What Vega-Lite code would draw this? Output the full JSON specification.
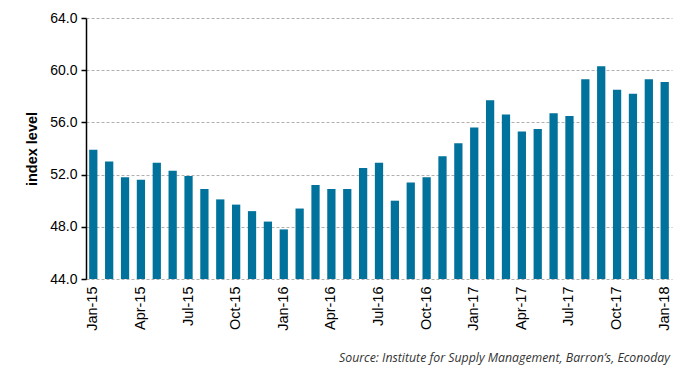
{
  "$schema": "https://vega.github.io/schema/vega-lite/v6.json",
  "width": 586,
  "height": 261,
  "autosize": "none",
  "padding": {"left": 86, "top": 18, "right": 28, "bottom": 101},
  "background": "white",
  "title": {
    "text": "Source: Institute for Supply Management, Barron’s, Econoday",
    "orient": "bottom",
    "anchor": "end",
    "font": "Open Sans",
    "fontStyle": "italic",
    "fontWeight": "normal",
    "fontSize": 12.3,
    "color": "#333333",
    "offset": 22,
    "dx": -2
  },
  "data": {
    "values": [
      {"month": "Jan-15", "value": 53.9},
      {"month": "Feb-15", "value": 53.0},
      {"month": "Mar-15", "value": 51.8},
      {"month": "Apr-15", "value": 51.6},
      {"month": "May-15", "value": 52.9},
      {"month": "Jun-15", "value": 52.3},
      {"month": "Jul-15", "value": 51.9},
      {"month": "Aug-15", "value": 50.9},
      {"month": "Sep-15", "value": 50.1},
      {"month": "Oct-15", "value": 49.7},
      {"month": "Nov-15", "value": 49.2},
      {"month": "Dec-15", "value": 48.4},
      {"month": "Jan-16", "value": 47.8},
      {"month": "Feb-16", "value": 49.4},
      {"month": "Mar-16", "value": 51.2},
      {"month": "Apr-16", "value": 50.9},
      {"month": "May-16", "value": 50.9},
      {"month": "Jun-16", "value": 52.5},
      {"month": "Jul-16", "value": 52.9},
      {"month": "Aug-16", "value": 50.0},
      {"month": "Sep-16", "value": 51.4},
      {"month": "Oct-16", "value": 51.8},
      {"month": "Nov-16", "value": 53.4},
      {"month": "Dec-16", "value": 54.4},
      {"month": "Jan-17", "value": 55.6},
      {"month": "Feb-17", "value": 57.7},
      {"month": "Mar-17", "value": 56.6},
      {"month": "Apr-17", "value": 55.3},
      {"month": "May-17", "value": 55.5},
      {"month": "Jun-17", "value": 56.7},
      {"month": "Jul-17", "value": 56.5},
      {"month": "Aug-17", "value": 59.3},
      {"month": "Sep-17", "value": 60.3},
      {"month": "Oct-17", "value": 58.5},
      {"month": "Nov-17", "value": 58.2},
      {"month": "Dec-17", "value": 59.3},
      {"month": "Jan-18", "value": 59.1}
    ]
  },
  "mark": {"type": "bar", "color": "#00729c"},
  "encoding": {
    "x": {
      "field": "month",
      "type": "ordinal",
      "sort": null,
      "scale": {"paddingInner": 0.48, "paddingOuter": 0.2},
      "axis": {
        "title": null,
        "values": ["Jan-15","Apr-15","Jul-15","Oct-15","Jan-16","Apr-16","Jul-16","Oct-16","Jan-17","Apr-17","Jul-17","Oct-17","Jan-18"],
        "labelAngle": -90,
        "labelFont": "Liberation Sans",
        "labelFontSize": 14.5,
        "labelColor": "#000000",
        "labelPadding": 7,
        "domain": false,
        "ticks": false,
        "grid": false
      }
    },
    "y": {
      "field": "value",
      "type": "quantitative",
      "scale": {"domain": [44, 64], "zero": false, "nice": false},
      "axis": {
        "title": "index level",
        "titleFont": "Liberation Sans",
        "titleFontSize": 14.5,
        "titleFontWeight": "bold",
        "titleColor": "#000000",
        "titlePadding": 10,
        "values": [44, 48, 52, 56, 60, 64],
        "format": ".1f",
        "labelFont": "Liberation Sans",
        "labelFontSize": 14,
        "labelColor": "#000000",
        "labelPadding": 4,
        "domainColor": "#000000",
        "domainWidth": 1.5,
        "tickColor": "#000000",
        "tickSize": 5,
        "tickWidth": 1.5,
        "grid": true,
        "gridColor": "#b0b0b0",
        "gridDash": [3, 2],
        "gridWidth": 1
      }
    },
    "y2": {"datum": 44}
  },
  "config": {
    "view": {"stroke": null}
  }
}
